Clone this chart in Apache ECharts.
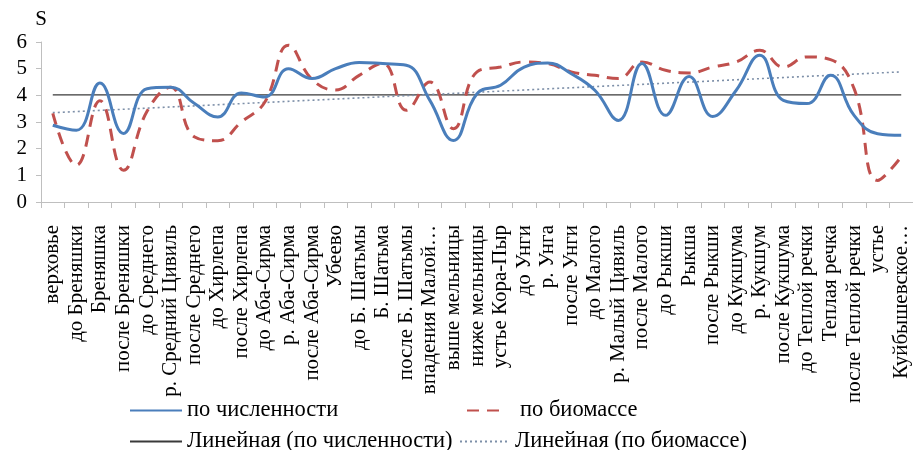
<!DOCTYPE html>
<html>
<head>
<meta charset="utf-8">
<script src="https://cdn.jsdelivr.net/npm/echarts@6/dist/echarts.min.js"></script>
<style>
html,body{margin:0;padding:0;background:#fff;}
#chart{width:913px;height:450px;}
</style>
</head>
<body>
<div id="chart"></div>
<script>
var categories = ['верховье','до Бреняшки','Бреняшка','после Бреняшки','до Среднего','р. Средний Цивиль','после Среднего','до Хирлепа','после Хирлепа','до Аба-Сирма','р. Аба-Сирма','после Аба-Сирма','Убеево','до Б. Шатьмы','Б. Шатьма','после Б. Шатьмы','впадения Малой…','выше мельницы','ниже мельницы','устье Кора-Пыр','до Унги','р. Унга','после Унги','до Малого','р. Малый Цивиль','после Малого','до Рыкши','Рыкша','после Рыкши','до Кукшума','р. Кукшум','после Кукшума','до Теплой речки','Теплая речка','после Теплой речки','устье','Куйбышевское…'];
var byCount = [2.88,2.69,4.46,2.57,4.25,4.3,3.7,3.19,4.09,3.94,5.0,4.63,5.0,5.23,5.19,5.13,3.81,2.31,4.06,4.38,5.06,5.21,4.81,4.19,3.06,5.19,3.25,4.71,3.21,4.19,5.5,3.81,3.69,4.75,3.25,2.56,2.5];
var byBiomass = [3.32,1.38,3.8,1.19,3.4,4.3,2.45,2.3,3.0,3.75,5.88,4.6,4.2,4.75,5.2,3.44,4.5,2.75,4.88,5.06,5.25,5.19,4.88,4.75,4.63,5.25,4.94,4.84,5.06,5.25,5.69,5.06,5.44,5.34,4.25,0.81,1.69];
var trendCountEnds = [4.02, 4.02];
var trendBiomassEnds = [3.35, 4.88];
var yTicks = [0,1,2,3,4,5,6];
var names = ['по численности','по биомассе','Линейная (по численности)','Линейная (по биомассе)'];

function endsSeries(ends){
  var arr = categories.map(function(){return null;});
  arr[0] = ends[0];
  arr[arr.length-1] = ends[1];
  return arr;
}

var font = 'Liberation Serif';
var chart = echarts.init(document.getElementById('chart'), null, {renderer:'canvas'});
var legendText = {fontFamily:font, fontSize:22.5, color:'#000'};
var noSym = {color:'rgba(0,0,0,0)', borderWidth:0, borderColor:'rgba(0,0,0,0)'};
chart.setOption({
  animation:false,
  backgroundColor:'#fff',
  textStyle:{fontFamily:font},
  grid:{left:41, right:0, top:42, bottom:248, containLabel:false},
  legend:[
    {data:[names[0]], left:124, top:394, itemWidth:52, itemHeight:14, textStyle:legendText, itemStyle:noSym},
    {data:[names[1]], left:461, top:394, itemWidth:40, itemHeight:14, itemStyle:noSym, textStyle:Object.assign({padding:[0,0,0,8]},legendText)},
    {data:[names[2]], left:124, top:425, itemWidth:52, itemHeight:14, textStyle:legendText, itemStyle:noSym},
    {data:[names[3]], left:454, top:425, itemWidth:50, itemHeight:14, textStyle:legendText, itemStyle:noSym}
  ],
  xAxis:{
    type:'category', data:categories, boundaryGap:true,
    axisLine:{show:true, lineStyle:{color:'#bfbfbf', width:1}},
    axisTick:{show:true, length:6, lineStyle:{color:'#bfbfbf'}},
    axisLabel:{rotate:90, interval:0, margin:23, fontFamily:font, fontSize:21, color:'#000'}
  },
  yAxis:{
    type:'value', min:0, max:6, interval:1,
    name:'S', nameLocation:'end', nameGap:12,
    nameTextStyle:{fontFamily:font, fontSize:21, color:'#000', align:'center'},
    axisLine:{show:true, lineStyle:{color:'#bfbfbf', width:1}},
    axisTick:{show:true, length:5, lineStyle:{color:'#bfbfbf'}},
    splitLine:{show:false},
    axisLabel:{margin:14, fontFamily:font, fontSize:21, color:'#000',
      formatter:function(v){return yTicks.indexOf(v)>=0 ? String(v) : '';}}
  },
  series:[
    {name:names[2], type:'line', data:endsSeries(trendCountEnds), connectNulls:true, symbol:'none',
      lineStyle:{color:'#3a3a3a', width:1.3}, itemStyle:{color:'#3a3a3a'}, z:1},
    {name:names[3], type:'line', data:endsSeries(trendBiomassEnds), connectNulls:true, symbol:'none',
      lineStyle:{color:'#7d8fa8', width:1.6, type:[2,3]}, itemStyle:{color:'#7d8fa8'}, z:1},
    {name:names[0], type:'line', data:byCount, smooth:0.45, symbol:'none',
      lineStyle:{color:'#4a7ebb', width:3}, itemStyle:{color:'#4a7ebb'}, z:3},
    {name:names[1], type:'line', data:byBiomass, smooth:0.45, symbol:'none',
      lineStyle:{color:'#c0504d', width:3, type:[12,8]}, itemStyle:{color:'#c0504d'}, z:2}
  ]
});
</script>
</body>
</html>
